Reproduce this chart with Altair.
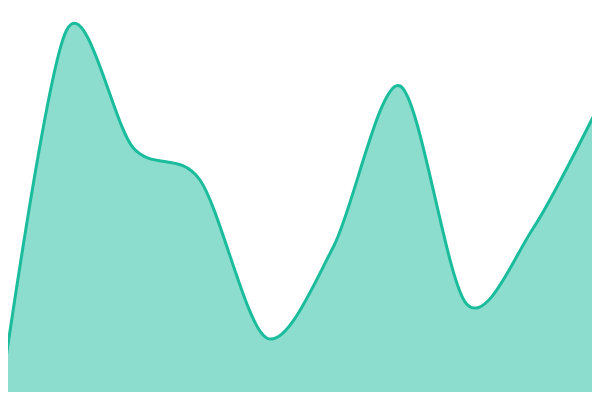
import altair as alt
import pandas as pd

xs = [0, 1, 2, 3, 4, 5, 6, 7, 8, 9]
values = [0, 370, 252, 220, 62, 153, 314, 96, 172, 297]

df = pd.DataFrame({"x": xs, "v": values})

chart = alt.Chart(df).mark_area(
    interpolate="cardinal",
    tension=0.1,
    color="#1abc9c",
    fillOpacity=0.5,
    line={"color": "#1abc9c", "strokeWidth": 3},
).encode(
    x=alt.X("x:Q", axis=None, scale=alt.Scale(domain=[0, 9], range=[-8, 592], nice=False, zero=False)),
    y=alt.Y("v:Q", axis=None, scale=alt.Scale(domain=[0, 400], range=[392, -8], nice=False)),
).properties(
    width=584,
    height=384,
    autosize=alt.AutoSizeParams(type="none"),
    padding=0,
).configure_view(stroke=None)

chart.save("out.html", embed_options={"renderer": "svg", "actions": False})
